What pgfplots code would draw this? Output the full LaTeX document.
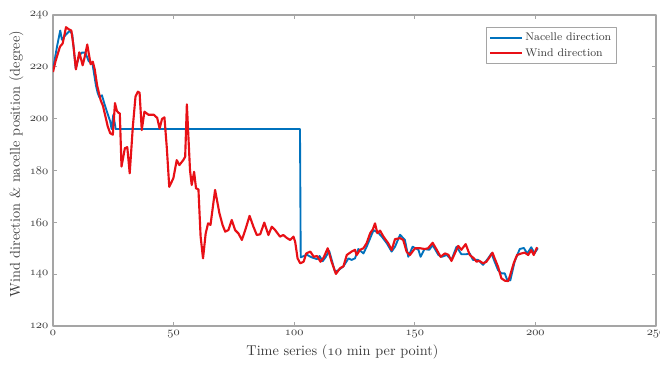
\documentclass[border=0pt]{standalone}
\usepackage{pgfplots}
\pgfplotsset{compat=1.18}
\definecolor{mblue}{RGB}{0,114,189}
\definecolor{mred}{RGB}{232,16,22}
\definecolor{axgray}{RGB}{165,165,165}
\definecolor{txtgray}{RGB}{60,60,60}
\newcommand{\os}[1]{$\mathnormal{#1}$}
\begin{document}
\begin{tikzpicture}
\begin{axis}[
 scale only axis, width=452.25pt, height=233.25pt,
 xmin=0, xmax=250, ymin=120, ymax=240,
 xtick={0,50,100,150,200}, xticklabels={\os{0},\os{50},\os{100},\os{150},\os{200}},
 extra x ticks={250}, extra x tick labels={\os{250}},
 extra x tick style={tick label style={overlay}},
 ytick={120,140,160,180,200,220,240},
 yticklabels={\os{120},\os{140},\os{160},\os{180},\os{200},\os{220},\os{240}},
 tick align=inside, major tick length=3pt,
 axis line style={axgray, line width=0.8pt},
 tick style={axgray, line width=0.5pt},
 tick label style={txtgray, font=\fontsize{9}{10}\selectfont},
 xlabel={Time series (\os{10} min per point)},
 ylabel={Wind direction \& nacelle position (degree)},
 label style={txtgray, font=\fontsize{10.7}{12}\selectfont},
 xlabel style={at={(axis description cs:0.48,-0.084)}, anchor=center},
 ylabel style={at={(axis description cs:-0.061,0.52)}, anchor=center},
 legend style={at={(axis description cs:0.935,0.961)}, anchor=north east,
   draw=axgray, font=\fontsize{8.3}{9.5}\selectfont, text=txtgray,
   inner sep=2pt, row sep=0.5pt, cells={anchor=west}},
 legend image code/.code={\draw[#1] plot coordinates {(0cm,0cm) (0.82cm,0cm)};},
 line join=round,
]
\addplot[mblue, line width=1.4pt] coordinates {
(0,219) (1.7,228) (3,234) (3.7,230.5) (5.4,232.5) (7,234) (8,232.5) (9.4,219.5)
(11,224.6) (12,225.5) (13.4,225.5) (14.8,222.2) (16.4,221) (17.8,212.8) (18.5,210)
(19.2,208.3) (20.3,209) (21.4,205.5) (22.5,202.3) (23.7,199) (24.3,196) (25,201.5)
(26,196) (102.4,196) (102.7,146.5) (104,147) (105.2,147.5) (107.2,146.5) (109.5,145.8)
(110.5,147) (111.8,145) (113,146.5) (114.5,149) (116.9,141) (118.3,141.5) (120.4,143)
(122.5,146.1) (123.8,145.5) (125.2,146.1) (126.6,149.7) (128.7,148) (130,150.5)
(132.9,157) (135,155.8) (136.3,154.5) (138.4,151.9) (140.4,148.7) (141.8,150.6)
(143.9,155.2) (145.9,153.2) (147.3,146.7) (149.1,150.6) (151.5,149.4) (152.4,146.7)
(154,149.7) (156,149.4) (157.4,151.2) (159.8,147.4) (161.2,146.7) (163.3,147.4)
(165.2,145.5) (167.3,150.6) (169.3,147.7) (171.4,147.7) (172.8,148) (174.1,145.5)
(176.2,145.5) (178.3,143.6) (180.4,146.1) (181.8,148) (183.1,144.8) (184.5,141.6)
(185.9,140.3) (187.3,140.3) (188.3,137.8) (189.6,137.6) (191.4,144.9) (193.5,149.7)
(195.2,150.1) (196.6,148) (198.3,150.4) (199.6,148) (201,150)
};
\addlegendentry{Nacelle direction}
\addplot[mred, line width=1.6pt] coordinates {
(0,218) (1,222) (2.9,227.8) (4,229) (5.4,235.3) (6.5,234.5) (7.6,234) (8.5,228)
(9.5,219) (10.9,225.6) (12.3,220.6) (13.2,224) (14.2,228.6) (15.6,221) (16.5,222)
(17.3,219) (18.3,212.8) (19.8,207) (20.7,205) (21.6,201.4) (22.7,197) (23.7,194.4)
(24.8,193.8) (25.7,206) (26.5,203) (27.1,202.3) (27.7,202) (28.4,181.5) (29.8,188.6)
(30.8,189) (31.8,178.9) (33.1,196.9) (34.2,208.5) (35.2,210.4) (35.9,210) (36.8,195.6)
(37.9,202.7) (39.6,201.5) (41.8,201.5) (43.2,200.3) (44.2,196.2) (45.2,199.9)
(46.2,200.5) (47.2,188.6) (48.2,173.7) (49.9,177) (51.3,184) (52.4,182.1) (54,184)
(54.8,185.3) (55.5,205.5) (56.8,180.2) (57.5,174.4) (58.5,179.5) (59.3,173.1)
(60.3,172.7) (61.2,154.5) (62.2,146.1) (63.3,155.7) (64.3,159.6) (65.3,159)
(67.2,172.5) (69,163.5) (70.3,159) (71.4,156.4) (72.7,157) (74.1,160.9) (75.5,157)
(76.9,155.7) (78.3,153.2) (79.7,157) (81.5,162.5) (83.1,158.3) (84.5,155.1)
(85.9,155.4) (87.6,159.9) (89.3,155.1) (90.7,158.3) (92.1,157) (94.1,154.5)
(95.5,155.1) (96.9,154) (98.3,153.2) (99.7,154.5) (100.4,152.5) (101.4,146.1)
(102.5,144.2) (103.9,144.8) (105,148) (106.7,148.7) (108.1,146.7) (109.5,147)
(110.9,144.8) (112.2,146.4) (113.9,150) (115.5,144.8) (117.3,140.1) (119,142.3)
(120.4,143) (121.8,147.4) (123.8,148.7) (125.2,149.4) (125.9,147.4) (127.3,149.4)
(128.7,150) (130,151.9) (131.5,155.8) (132.6,157.3) (133.5,159.6) (134.5,155.8)
(135.6,156.8) (137,154.5) (139,151.9) (140.4,149.3) (141.8,153.5) (143.9,153.9)
(145.2,153.2) (146.6,148.7) (148,147.4) (150.1,150) (152.2,150) (154.2,149.7)
(155.5,150) (157.4,152.1) (159.1,149.4) (160.7,146.7) (162.5,148) (163.9,147.5)
(165.2,145.1) (166.6,148) (168,150.9) (169.3,149.4) (171.1,151.6) (172.8,147.4)
(174.5,146.1) (175.6,144.8) (176.7,145.2) (178.3,144.2) (179.7,144.8) (181.1,146.7)
(182.2,148.3) (183.1,146.1) (184.5,142.9) (185.9,138.4) (187.3,137.5) (188.7,137.3)
(189.6,139.8) (191,144.2) (192.4,147.4) (194.2,148) (195.6,148.3) (197,147.4)
(198.3,149.3) (199.3,147.4) (200.7,150.4)
};
\addlegendentry{Wind direction}
\end{axis}
\path ([xshift=-39.75pt,yshift=-28.5pt]current axis.south west)
  rectangle ([xshift=3pt,yshift=11.25pt]current axis.north east);
\end{tikzpicture}
\end{document}
